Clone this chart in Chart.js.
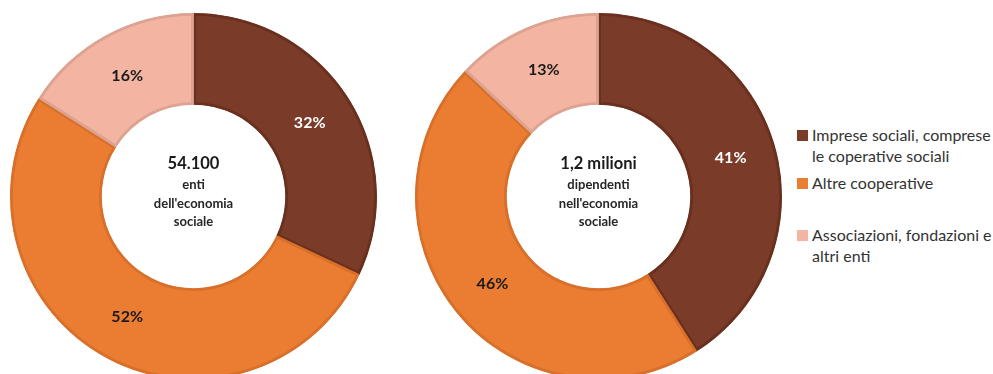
<!DOCTYPE html>
<html lang="it">
<head>
<meta charset="utf-8">
<script src="https://cdn.jsdelivr.net/npm/chart.js@4/dist/chart.umd.min.js"></script>
<style>
  html, body { margin: 0; padding: 0; background: #fff; }
  body { width: 993px; height: 374px; overflow: hidden; position: relative; font-family: Lato, "Open Sans", sans-serif; }
  .ring { position: absolute; width: 367px; height: 367px; top: 13px; }
  #ringEnti { left: 10px; }
  #ringDip { left: 415px; }
  .legend { position: absolute; left: 797px; top: 0; width: 196px; }
  .legend .item { position: absolute; left: 0; width: 196px; }
  .legend .swatch { position: absolute; left: 0; top: 5px; width: 11px; height: 11px; }
  .legend .txt { position: absolute; left: 15px; font-size: 16px; line-height: 20.5px; color: #333; white-space: nowrap; }
</style>
</head>
<body>
<div class="ring" id="ringEnti"><canvas id="cEnti"></canvas></div>
<div class="ring" id="ringDip"><canvas id="cDip"></canvas></div>
<div class="legend" id="legend"></div>
<script>
// Categories of the social economy
const categories = [
  ['Imprese sociali, comprese', 'le coperative sociali'],
  ['Altre cooperative'],
  ['Associazioni, fondazioni e', 'altri enti']
];
// Share of organisations (%)
const entiShare = [32, 52, 16];
// Share of employees (%)
const dipendentiShare = [41, 46, 13];
// Centre captions
const entiCaption = ['54.100', 'enti', "dell'economia", 'sociale'];
const dipendentiCaption = ['1,2 milioni', 'dipendenti', "nell'economia", 'sociale'];

const fills = ['#7a3b28', '#eb7d32', '#f3b5a1'];
const edges = ['#69301f', '#d8702b', '#dca392'];
const labelInk = ['#ffffff', '#1a1a1a', '#1a1a1a'];

// Percent labels at the middle of each ring segment
const sliceLabels = {
  id: 'sliceLabels',
  afterDatasetsDraw(chart) {
    const ctx = chart.ctx;
    const meta = chart.getDatasetMeta(0);
    const values = chart.data.datasets[0].data;
    ctx.save();
    ctx.font = 'bold 16px Lato, "Open Sans", sans-serif';
    ctx.textAlign = 'center';
    ctx.textBaseline = 'middle';
    meta.data.forEach((arc, i) => {
      const p = arc.tooltipPosition();
      ctx.fillStyle = labelInk[i];
      ctx.fillText(values[i] + '%', p.x, p.y);
    });
    ctx.restore();
  }
};

// Caption in the hole of the ring
const centreCaption = {
  id: 'centreCaption',
  afterDraw(chart, args, opts) {
    const lines = opts.lines || [];
    const arc = chart.getDatasetMeta(0).data[0];
    if (!arc) return;
    const ctx = chart.ctx;
    ctx.save();
    ctx.textAlign = 'center';
    ctx.textBaseline = 'middle';
    const top = arc.y - 33;
    lines.forEach((line, i) => {
      if (i === 0) {
        ctx.font = 'bold 16.5px Lato, "Open Sans", sans-serif';
        ctx.fillStyle = '#1a1a1a';
        ctx.fillText(line, arc.x, top);
      } else {
        ctx.font = 'bold 13px Lato, "Open Sans", sans-serif';
        ctx.fillStyle = '#262626';
        ctx.fillText(line, arc.x, top + 3 + i * 18.5);
      }
    });
    ctx.restore();
  }
};

function ring(canvasId, values, caption) {
  return new Chart(document.getElementById(canvasId), {
    type: 'doughnut',
    data: {
      labels: categories,
      datasets: [{
        data: values,
        backgroundColor: fills,
        borderColor: edges,
        borderWidth: 2.5,
        borderAlign: 'inner'
      }]
    },
    options: {
      responsive: true,
      maintainAspectRatio: false,
      animation: false,
      cutout: '50%',
      rotation: 0,
      layout: { padding: 0 },
      plugins: {
        legend: { display: false },
        tooltip: { enabled: false },
        centreCaption: { lines: caption }
      }
    },
    plugins: [sliceLabels, centreCaption]
  });
}

ring('cEnti', entiShare, entiCaption);
ring('cDip', dipendentiShare, dipendentiCaption);

// Legend built from the category list and the ring colours
const legendTops = [125, 173, 225];
const legend = document.getElementById('legend');
categories.forEach((lines, i) => {
  const item = document.createElement('div');
  item.className = 'item';
  item.style.top = legendTops[i] + 'px';
  const sw = document.createElement('div');
  sw.className = 'swatch';
  sw.style.background = fills[i];
  const txt = document.createElement('div');
  txt.className = 'txt';
  txt.innerHTML = lines.map(l => l.replace(/&/g, '&amp;').replace(/</g, '&lt;')).join('<br>');
  item.appendChild(sw);
  item.appendChild(txt);
  legend.appendChild(item);
});
</script>
</body>
</html>
